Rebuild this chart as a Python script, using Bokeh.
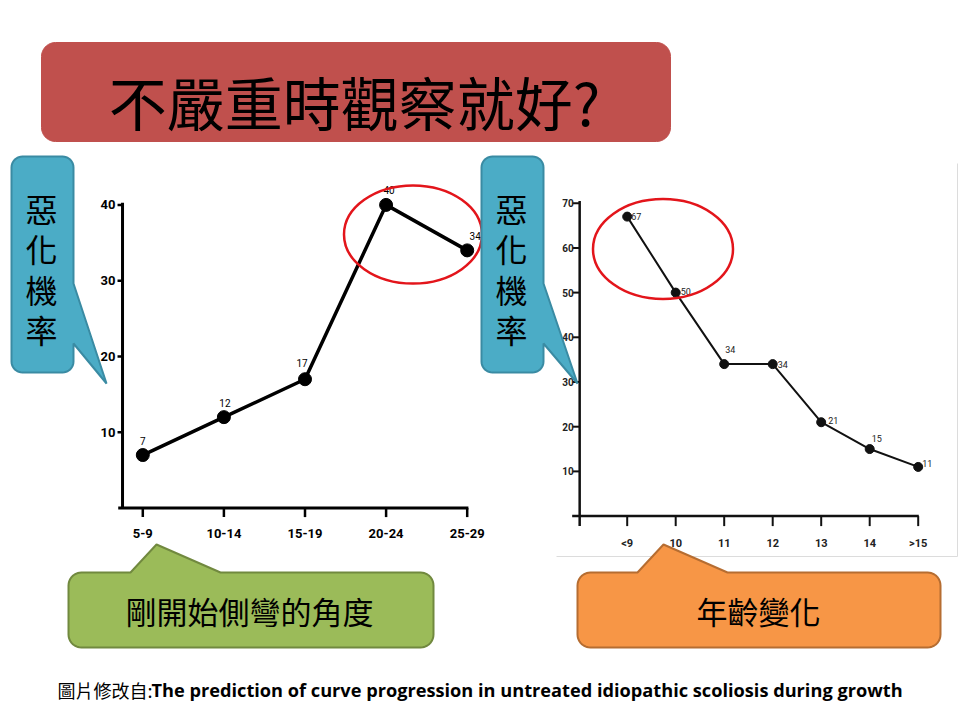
import numpy as np
from bokeh.plotting import figure
from bokeh.models import Range1d
from bokeh.core.properties import value
from bokeh.embed import file_html
from bokeh.resources import INLINE

# ---------------- data ----------------
title_text = "不嚴重時觀察就好?"
c1_categories = ["5-9", "10-14", "15-19", "20-24", "25-29"]
c1_values = [7, 12, 17, 40, 34]
c1_yticks = [10, 20, 30, 40]

c2_categories = ["<9", "10", "11", "12", "13", "14", ">15"]
c2_values = [67, 50, 34, 34, 21, 15, 11]
c2_yticks = [10, 20, 30, 40, 50, 60, 70]

y_callout_text = "惡\n化\n機\n率"
c1_callout_text = "剛開始側彎的角度"
c2_callout_text = "年齡變化"
source_prefix = "圖片修改自:"
source_title = "The prediction of curve progression  in untreated idiopathic  scoliosis during growth"

# ---------------- fonts / colours ----------------
CJK = value("Noto Sans CJK TC")
TICK = value("Roboto")
LATIN = value("Open Sans")

W, H = 960, 720
p = figure(width=W, height=H, x_range=Range1d(0, W), y_range=Range1d(H, 0),
           output_backend="svg", toolbar_location=None, min_border=0)
p.axis.visible = False
p.grid.visible = False
p.outline_line_color = None
p.background_fill_color = "white"
p.border_fill_color = "white"


def span_range(v_a, px_a, v_b, px_b, px_start, px_end):
    k = (px_b - px_a) / (v_b - v_a)
    return Range1d(start=v_a + (px_start - px_a) / k, end=v_a + (px_end - px_a) / k)


# chart 1 placement (pixels on the slide)
K1X, K1Y = 81.1, 7.58
p.extra_x_ranges["c1x"] = span_range(0, 142.3, 4, 142.3 + 4 * K1X, 0, W)
p.extra_y_ranges["c1y"] = span_range(0, 507.6, 40, 507.6 - 40 * K1Y, H, 0)
# chart 2 placement
K2X, K2Y = 48.5, 4.47
p.extra_x_ranges["c2x"] = span_range(0, 626.7, 6, 626.7 + 6 * K2X, 0, W)
p.extra_y_ranges["c2y"] = span_range(0, 515.6, 70, 515.6 - 70 * K2Y, H, 0)


def rounded_shape(x0, y0, x1, y1, r, tail=None, side=None, n=10):
    xs, ys = [], []

    def arc(cx, cy, a0, a1):
        for t in np.linspace(a0, a1, n):
            xs.append(cx + r * np.cos(t))
            ys.append(cy + r * np.sin(t))

    xs.append(x0 + r); ys.append(y0)
    if side == "top":
        (ax, bx, tx, ty) = tail
        xs += [ax, tx, bx]; ys += [y0, ty, y0]
    arc(x1 - r, y0 + r, -np.pi / 2, 0)
    if side == "right":
        (ay, by, tx, ty) = tail
        xs += [x1, tx, x1]; ys += [ay, ty, by]
    arc(x1 - r, y1 - r, 0, np.pi / 2)
    arc(x0 + r, y1 - r, np.pi / 2, np.pi)
    arc(x0 + r, y0 + r, np.pi, 1.5 * np.pi)
    return xs, ys


# ---------------- chart 2 image frame ----------------
p.line([556, 957, 957], [556, 556, 163], line_color="#dcdcdc", line_width=1)

# ---------------- chart 1 ----------------
r1 = dict(x_range_name="c1x", y_range_name="c1y")
ax1 = -0.25
n1 = len(c1_categories)
idx1 = list(range(n1))
p.line([ax1, ax1], [0, 40.3], line_color="black", line_width=3, **r1)
p.line([ax1 - 4.3 / K1X, n1 - 1 + 1.2 / K1X], [0, 0], line_color="black", line_width=3, **r1)
p.segment(x0=[ax1 - 5 / K1X] * len(c1_yticks), y0=c1_yticks, x1=[ax1] * len(c1_yticks), y1=c1_yticks,
          line_color="black", line_width=2.5, **r1)
p.segment(x0=idx1, y0=[0] * n1, x1=idx1, y1=[-9 / K1Y] * n1, line_color="black", line_width=2.5, **r1)
p.text(x=[ax1] * len(c1_yticks), y=c1_yticks, text=[str(t) for t in c1_yticks], x_offset=-7,
       text_align="right", text_baseline="middle", text_font=TICK, text_font_style="bold",
       text_font_size="13px", text_color="black", **r1)
p.text(x=idx1, y=[0] * n1, text=c1_categories, y_offset=25, text_align="center",
       text_baseline="middle", text_font=TICK, text_font_style="bold",
       text_font_size="13px", text_color="black", **r1)
p.line(idx1, c1_values, line_color="black", line_width=3.5, **r1)
p.scatter(idx1, c1_values, size=13, fill_color="black", line_color="black", **r1)
lab1_dx = [0, 1, -3, 3, 8]
lab1_dy = [-14, -14, -16, -15, -14]
for i in range(n1):
    p.text(x=[idx1[i]], y=[c1_values[i]], text=[str(c1_values[i])], x_offset=lab1_dx[i],
           y_offset=lab1_dy[i], text_align="center", text_baseline="middle", text_font=TICK,
           text_font_size="10px", text_color="black", **r1)

# ---------------- chart 2 ----------------
r2 = dict(x_range_name="c2x", y_range_name="c2y")
ax2 = -0.98
n2 = len(c2_categories)
idx2 = list(range(n2))
p.line([ax2, ax2], [-10 / K2Y, 70.5], line_color="#111", line_width=2.5, **r2)
p.line([ax2 - 7.5 / K2X, n2 - 1 + 0.6 / K2X], [0, 0], line_color="#111", line_width=2.5, **r2)
p.segment(x0=[ax2 - 7 / K2X] * len(c2_yticks), y0=c2_yticks, x1=[ax2] * len(c2_yticks), y1=c2_yticks,
          line_color="#111", line_width=2, **r2)
p.segment(x0=idx2, y0=[0] * n2, x1=idx2, y1=[-10 / K2Y] * n2, line_color="#111", line_width=2, **r2)
p.text(x=[ax2] * len(c2_yticks), y=c2_yticks, text=[str(t) for t in c2_yticks], x_offset=-6,
       text_align="right", text_baseline="middle", text_font=TICK, text_font_style="bold",
       text_font_size="10px", text_color="#222", **r2)
p.text(x=idx2, y=[0] * n2, text=c2_categories, y_offset=27, text_align="center",
       text_baseline="middle", text_font=TICK, text_font_style="bold",
       text_font_size="11px", text_color="#222", **r2)
p.line(idx2, c2_values, line_color="#111", line_width=2, **r2)
p.scatter(idx2, c2_values, size=9, fill_color="#111", line_color="#111", **r2)
lab2_dx = [9, 10, 6, 10, 12, 7, 9]
lab2_dy = [0, -1, -15, 0, -2, -11, -3]
for i in range(n2):
    p.text(x=[idx2[i]], y=[c2_values[i]], text=[str(c2_values[i])], x_offset=lab2_dx[i],
           y_offset=lab2_dy[i], text_align="center", text_baseline="middle", text_font=TICK,
           text_font_size="9px", text_color="#222", **r2)

# ---------------- red highlight ellipses ----------------
p.ellipse(x=[412.5, 662.5], y=[234, 248.5], width=[138, 140], height=[98, 100],
          fill_alpha=0, line_color="#E3151B", line_width=2.5)

# ---------------- title banner ----------------
bx, by = rounded_shape(41, 42, 670, 141, 14)
p.patch(bx, by, fill_color="#C0504D", line_color="#C0504D", line_width=1)
p.text(x=[354], y=[100], text=[title_text], text_align="center", text_baseline="middle",
       text_font=CJK, text_font_size="58px", text_color="black")

# ---------------- callouts ----------------
BLUE, BLUE_E = "#4BACC6", "#3A8BA3"
for (x0, x1, tip_x, tcx) in [(11, 73, 106, 41), (481, 543, 577, 511)]:
    cx, cy = rounded_shape(x0, 156, x1, 372, 11, tail=(283, 343, tip_x, 383), side="right")
    p.patch(cx, cy, fill_color=BLUE, line_color=BLUE_E, line_width=2)
    p.text(x=[tcx], y=[268], text=[y_callout_text], text_align="center", text_baseline="middle",
           text_font=CJK, text_font_size="32px", text_line_height=0.87, text_color="black")

gx, gy = rounded_shape(68, 572, 433, 647, 13, tail=(130, 220, 156, 544), side="top")
p.patch(gx, gy, fill_color="#9BBB59", line_color="#71893F", line_width=2)
p.text(x=[249], y=[610], text=[c1_callout_text], text_align="center", text_baseline="middle",
       text_font=CJK, text_font_size="31px", text_color="black")

ox, oy = rounded_shape(577, 572, 940, 647, 13, tail=(637, 727, 663, 544), side="top")
p.patch(ox, oy, fill_color="#F79646", line_color="#B66D31", line_width=2)
p.text(x=[758], y=[610], text=[c2_callout_text], text_align="center", text_baseline="middle",
       text_font=CJK, text_font_size="31px", text_color="black")

# ---------------- source footnote ----------------
p.text(x=[57], y=[689], text=[source_prefix], text_align="left", text_baseline="middle",
       text_font=CJK, text_font_size="18px", text_color="black")
p.text(x=[151], y=[689], text=[source_title], text_align="left", text_baseline="middle",
       text_font=LATIN, text_font_style="bold", text_font_size="18.2px", text_color="black")

open("out.html", "w").write(file_html(p, INLINE))
